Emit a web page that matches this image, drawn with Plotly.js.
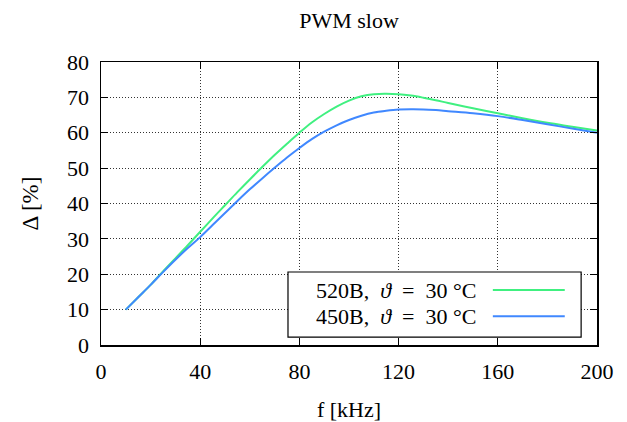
<!DOCTYPE html>
<html><head><meta charset="utf-8">
<script src="https://cdn.plot.ly/plotly-3.0.1.min.js"></script>
<style>body{margin:0;background:#fff}#c{width:627px;height:422px}</style>
</head><body><div id="c"></div>
<script>
const freq = [10,15,20,25,30,35,40,45,50,55,60,65,70,75,80,85,90,95,100,105,110,115,120,125,130,135,140,150,160,170,180,190,200];
const delta520 = [10,13.5,17,20.8,24.5,28.2,32.0,35.8,39.5,43.2,46.8,50.3,53.7,56.9,60.0,62.9,65.3,67.4,69.1,70.3,70.9,71.0,70.9,70.5,69.9,69.2,68.4,66.9,65.5,64.1,62.8,61.7,60.6];
const delta450 = [10,13.5,17,20.6,24.1,27.4,30.5,33.9,37.3,40.7,44.0,47.1,50.1,53.0,55.7,58.2,60.3,62.1,63.6,64.8,65.7,66.2,66.55,66.65,66.6,66.4,66.1,65.5,64.7,63.6,62.4,61.2,60.0];
const xTicks = [0,40,80,120,160,200];
const yTicks = [0,10,20,30,40,50,60,70,80];
const labels = ["520B,&nbsp; <i>ϑ</i>&nbsp; =&nbsp; 30 °C", "450B,&nbsp; <i>ϑ</i>&nbsp; =&nbsp; 30 °C"];
const colors = ["#40f080", "#4088ff"];

const font = "Liberation Serif, DejaVu Serif, serif";
const traces = [
  {x: freq, y: delta520, type: "scatter", mode: "lines", line: {color: colors[0], width: 2, shape: "spline", smoothing: 1}, name: "520B", showlegend: false},
  {x: freq, y: delta450, type: "scatter", mode: "lines", line: {color: colors[1], width: 2, shape: "spline", smoothing: 1}, name: "450B", showlegend: false}
];

const axisCommon = {
  showline: true, linecolor: "#000", linewidth: 1.5, mirror: "ticks",
  ticks: "inside", ticklen: 7, tickwidth: 1, tickcolor: "#000",
  showgrid: true, gridcolor: "rgba(0,0,0,0.8)", gridwidth: 1, griddash: "1px,2px",
  zeroline: false, tickfont: {family: font, size: 22, color: "#000"}
};

const layout = {
  width: 627, height: 422,
  margin: {l: 101, r: 30, t: 62, b: 77},
  paper_bgcolor: "#fff", plot_bgcolor: "#fff",
  title: {text: "PWM slow", font: {family: font, size: 22, color: "#000"}, x: 0.5, xanchor: "center", y: 0.953, yanchor: "middle", xref: "paper"},
  xaxis: Object.assign({}, axisCommon, {range: [0, 200], tickvals: xTicks, ticktext: xTicks.map(String), ticklabelstandoff: 6,
    title: {text: "f [kHz]", font: {family: font, size: 22, color: "#000"}, standoff: 22}}),
  yaxis: Object.assign({}, axisCommon, {range: [0, 80], tickvals: yTicks, ticktext: yTicks.map(String), ticklabelstandoff: 6,
    title: {text: "Δ [%]", font: {family: font, size: 23, color: "#000"}, standoff: 22}}),
  showlegend: false,
  shapes: [
    {type: "rect", xref: "paper", yref: "paper", x0: 0.377, x1: 0.968, y0: 0.028, y1: 0.258, line: {color: "#000", width: 1.2}, fillcolor: "#fff", layer: "above"},
    {type: "line", xref: "paper", yref: "paper", x0: 0.790, x1: 0.935, y0: 0.194, y1: 0.194, line: {color: colors[0], width: 2}, layer: "above"},
    {type: "line", xref: "paper", yref: "paper", x0: 0.790, x1: 0.935, y0: 0.102, y1: 0.102, line: {color: colors[1], width: 2}, layer: "above"}
  ],
  annotations: [
    {xref: "paper", yref: "paper", x: 0.76, y: 0.194, xanchor: "right", yanchor: "middle", text: labels[0], showarrow: false, font: {family: font, size: 22, color: "#000"}},
    {xref: "paper", yref: "paper", x: 0.76, y: 0.102, xanchor: "right", yanchor: "middle", text: labels[1], showarrow: false, font: {family: font, size: 22, color: "#000"}}
  ]
};
Plotly.newPlot("c", traces, layout, {staticPlot: true, displayModeBar: false});
</script></body></html>
